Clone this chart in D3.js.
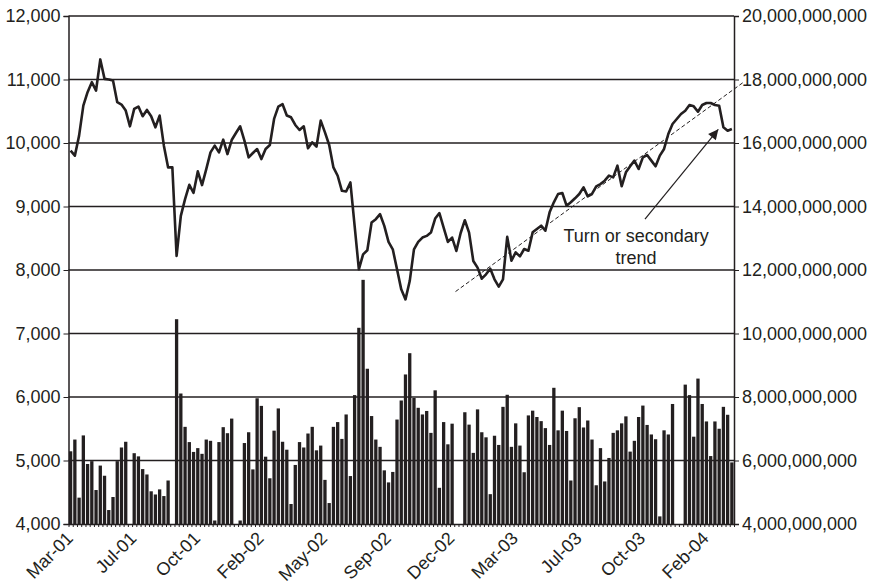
<!DOCTYPE html>
<html>
<head>
<meta charset="utf-8">
<script src="https://cdn.jsdelivr.net/npm/d3@7"></script>
<style>
  body { margin: 0; background: #fff; }
  svg { display: block; font-family: "Liberation Sans", Arial, Helvetica, sans-serif; }
  .axis path, .axis line { stroke: #231f20; }
  .axis text { fill: #231f20; font-size: 18px; }
</style>
</head>
<body>
<div class="graphic-wrapper"></div>
<script>
// weekly index close (left axis)
const closes = [
  9879, 9800, 10116, 10589, 10800, 10958, 10826, 11316, 11010, 11000,
  10984, 10642, 10605, 10511, 10263, 10537, 10574, 10421, 10521, 10421,
  10247, 10432, 9958, 9616, 9616, 8221, 8853, 9116, 9342, 9216,
  9553, 9337, 9589, 9853, 9958, 9853, 10053, 9826, 10047, 10158,
  10263, 10037, 9774, 9842, 9905, 9747, 9905, 9968, 10379, 10574,
  10611, 10432, 10405, 10284, 10205, 10263, 9916, 10011, 9942, 10353,
  10168, 9968, 9616, 9484, 9247, 9237, 9379, 8695, 8011, 8247,
  8311, 8747, 8800, 8879, 8695, 8442, 8326, 8011, 7695, 7537,
  7826, 8326, 8442, 8511, 8537, 8589, 8811, 8895, 8668, 8442,
  8511, 8300, 8579, 8784, 8589, 8142, 8037, 7863, 7932, 8021,
  7853, 7737, 7853, 8521, 8147, 8278, 8215, 8331, 8304, 8593,
  8646, 8698, 8619, 8908, 9066, 9197, 9213, 9013, 9066, 9129,
  9197, 9302, 9160, 9197, 9318, 9354, 9407, 9486, 9459, 9643,
  9318, 9538, 9633, 9722, 9591, 9774, 9811, 9722, 9633, 9801,
  9906, 10142, 10299, 10378, 10457, 10509, 10598, 10577, 10493, 10598,
  10630, 10630, 10598, 10588, 10247, 10194, 10220
];

// weekly volume, billions of shares (right axis)
const volumes = [
  6.29, 6.66, 4.83, 6.79, 5.89, 5.98, 5.07, 5.84, 5.52, 4.44,
  4.85, 5.98, 6.41, 6.59, 4.00, 6.23, 6.13, 5.73, 5.56, 5.03,
  4.93, 5.09, 4.88, 5.37, 4.00, 10.45, 8.11, 7.06, 6.58, 6.27,
  6.39, 6.21, 6.66, 6.62, 4.11, 6.58, 7.05, 6.86, 7.32, 4.00,
  4.11, 6.55, 6.89, 5.72, 7.96, 7.72, 6.12, 5.44, 6.94, 7.64,
  6.59, 6.34, 4.63, 5.86, 6.58, 6.41, 6.85, 7.06, 6.32, 6.47,
  5.39, 4.66, 7.06, 7.21, 6.68, 7.45, 5.51, 8.06, 10.18, 11.69,
  8.89, 7.40, 6.66, 6.43, 5.69, 5.31, 5.64, 7.29, 7.89, 8.71,
  9.38, 7.97, 7.66, 7.45, 7.56, 6.87, 8.21, 5.14, 7.21, 6.51,
  7.16, 4.00, 4.00, 7.52, 7.13, 6.24, 7.61, 6.89, 6.73, 4.94,
  6.78, 6.49, 7.69, 8.07, 6.43, 7.17, 6.47, 5.63, 7.42, 7.57,
  7.37, 7.24, 7.02, 6.49, 8.29, 6.95, 7.57, 6.93, 5.37, 7.33,
  7.68, 7.04, 7.26, 6.66, 5.22, 6.39, 5.34, 6.08, 6.87, 6.95,
  7.17, 7.39, 6.28, 6.62, 7.37, 7.73, 7.12, 6.82, 6.67, 4.24,
  6.95, 6.82, 7.78, 4.00, 4.00, 8.39, 8.06, 6.75, 8.58, 7.78,
  7.23, 6.14, 7.23, 7.00, 7.69, 7.44, 5.94
];

// category labels, one every 15 weeks
const labelWeeks = [0, 15, 30, 45, 60, 75, 90, 105, 120, 135, 150];
const labelNames = ["Mar-01", "Jul-01", "Oct-01", "Feb-02", "May-02", "Sep-02",
  "Dec-02", "Mar-03", "Jul-03", "Oct-03", "Feb-04"];

const leftTicks = [4000, 5000, 6000, 7000, 8000, 9000, 10000, 11000, 12000];
const rightTicks = [4e9, 6e9, 8e9, 10e9, 12e9, 14e9, 16e9, 18e9, 20e9];

// dashed trend line, [week position, left-axis value]
const trendLine = [[91.3, 7660], [159.3, 10960]];
// arrow from note to the turn, [week position, left-axis value]
const arrowFrom = [136.0, 8800];
const arrowTo = [153.3, 10215];
const noteAt = [133.9, 8440];
const noteLines = ["Turn or secondary", "trend"];

let width = 874;
let height = 585;
let plotLeft = 68.5;
let plotRight = 734;
let plotTop = 16;
let plotBottom = 524;
let ink = "#231f20";

let svg = d3.select(".graphic-wrapper").append("svg")
  .attr("width", width)
  .attr("height", height);

let n = closes.length;

let scaleX = d3.scaleBand()
  .domain(d3.range(n))
  .range([plotLeft, plotRight])
  .paddingInner(0.22)
  .paddingOuter(0.11);

let scaleW = d3.scaleLinear()
  .domain([0, n])
  .range([plotLeft, plotRight]);

let scaleY = d3.scaleLinear()
  .domain([4000, 12000])
  .range([plotBottom, plotTop]);

let scaleV = d3.scaleLinear()
  .domain([4, 20])
  .range([plotBottom, plotTop]);

// gridlines
svg.append("g").attr("class", "grid")
  .selectAll("line")
  .data(leftTicks.slice(1))
  .join("line")
  .attr("x1", plotLeft)
  .attr("x2", plotRight)
  .attr("y1", d => scaleY(d))
  .attr("y2", d => scaleY(d))
  .attr("stroke", ink)
  .attr("stroke-width", 1.3);

// volume bars
svg.append("g").attr("class", "bars")
  .selectAll("rect")
  .data(volumes)
  .join("rect")
  .attr("x", (d, i) => scaleX(i))
  .attr("width", scaleX.bandwidth())
  .attr("y", d => scaleV(Math.max(4, d)))
  .attr("height", d => plotBottom - scaleV(Math.max(4, d)))
  .attr("fill", ink);

// axes
const fmt = d3.format(",");

svg.append("g")
  .attr("class", "axis")
  .attr("transform", `translate(${plotLeft},0)`)
  .call(d3.axisLeft(scaleY).tickValues(leftTicks).tickFormat(fmt).tickSize(5).tickPadding(3))
  .call(g => g.select(".domain").attr("stroke-width", 1.5));

svg.append("g")
  .attr("class", "axis")
  .attr("transform", `translate(${plotRight},0)`)
  .call(d3.axisRight(scaleV.copy().domain([4e9, 20e9])).tickValues(rightTicks).tickFormat(fmt).tickSize(5).tickPadding(3))
  .call(g => g.select(".domain").attr("stroke-width", 1.5));

svg.append("g")
  .attr("class", "axis")
  .attr("transform", `translate(0,${plotBottom})`)
  .call(d3.axisBottom(scaleW).tickValues(d3.range(n + 1)).tickFormat("").tickSize(3).tickSizeOuter(0))
  .call(g => g.select(".domain").attr("stroke-width", 1.5));

svg.append("g")
  .attr("class", "axis")
  .selectAll("text")
  .data(labelWeeks)
  .join("text")
  .attr("transform", d => `translate(${scaleW(d + 0.5) - 1},${plotBottom + 11}) rotate(-45)`)
  .attr("text-anchor", "end")
  .attr("dy", "0.35em")
  .text((d, i) => labelNames[i]);

// trend line
svg.append("line")
  .attr("x1", scaleW(trendLine[0][0]))
  .attr("y1", scaleY(trendLine[0][1]))
  .attr("x2", scaleW(trendLine[1][0]))
  .attr("y2", scaleY(trendLine[1][1]))
  .attr("stroke", ink)
  .attr("stroke-width", 1)
  .attr("stroke-dasharray", "4,2.5");

// price line
let line = d3.line()
  .x((d, i) => scaleX(i) + scaleX.bandwidth() / 2)
  .y(d => scaleY(d));

svg.append("path")
  .datum(closes)
  .attr("d", line)
  .attr("fill", "none")
  .attr("stroke", ink)
  .attr("stroke-width", 2.6)
  .attr("stroke-linejoin", "round");

// annotation
svg.append("defs").append("marker")
  .attr("id", "head")
  .attr("viewBox", "0 0 10 10")
  .attr("refX", 10)
  .attr("refY", 5)
  .attr("markerWidth", 12)
  .attr("markerHeight", 10)
  .attr("markerUnits", "userSpaceOnUse")
  .attr("orient", "auto")
  .append("path")
  .attr("d", "M0,0L10,5L0,10Z")
  .attr("fill", ink);

svg.append("line")
  .attr("x1", scaleW(arrowFrom[0]))
  .attr("y1", scaleY(arrowFrom[1]))
  .attr("x2", scaleW(arrowTo[0]))
  .attr("y2", scaleY(arrowTo[1]))
  .attr("stroke", ink)
  .attr("stroke-width", 1.2)
  .attr("marker-end", "url(#head)");

svg.append("text")
  .attr("x", scaleW(noteAt[0]))
  .attr("y", scaleY(noteAt[1]))
  .attr("text-anchor", "middle")
  .attr("fill", ink)
  .style("font-size", "18px")
  .selectAll("tspan")
  .data(noteLines)
  .join("tspan")
  .attr("x", scaleW(noteAt[0]))
  .attr("dy", (d, i) => i ? 22 : 0)
  .text(d => d);
</script>
</body>
</html>
